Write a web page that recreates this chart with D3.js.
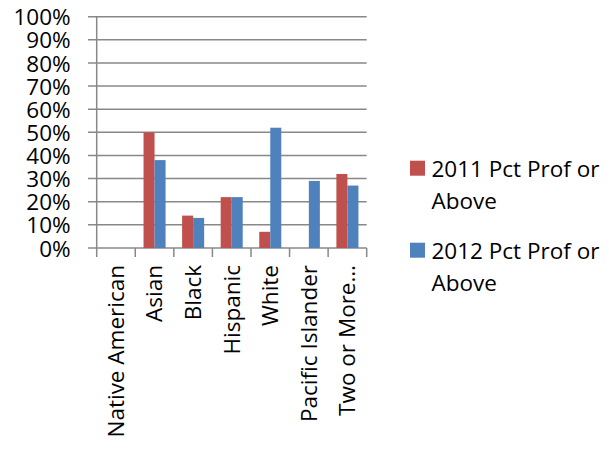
<!DOCTYPE html>
<html><head><meta charset="utf-8">
<script src="https://cdn.jsdelivr.net/npm/d3@7"></script>
<style>html,body{margin:0;padding:0;background:#fff;}svg{display:block;}</style>
</head><body>
<svg id="c" width="609" height="462"></svg>
<script>
const categories = ["Native American","Asian","Black","Hispanic","White","Pacific Islander","Two or More…"];
const series2011 = [null,50,14,22,7,null,32];
const series2012 = [null,38,13,22,52,29,27];
const seriesNames = ["2011 Pct Prof or Above","2012 Pct Prof or Above"];
const yTicks = [0,10,20,30,40,50,60,70,80,90,100];

const colors = ["#C0504D","#4F81BD"];
const font = "'Open Sans', sans-serif";
const fs = 22.5;
const svg = d3.select("#c");
const x0 = 96.7, x1 = 366.7, yb = 248, yt = 16.7;

const x = d3.scaleBand().domain(categories).range([x0,x1]).paddingInner(0).paddingOuter(0);
const y = d3.scaleLinear().domain([0,100]).range([yb,yt]);
const bw = x.bandwidth()/3.5;
const inner = d3.scaleBand().domain([0,1]).range([x.bandwidth()/2 - bw, x.bandwidth()/2 + bw]);

// gridlines
svg.append("g").selectAll("line").data(yTicks).join("line")
  .attr("x1",88).attr("x2",x1).attr("y1",d=>y(d)).attr("y2",d=>y(d))
  .attr("stroke","#888").attr("stroke-width",1.5);

// y axis labels
const ya = svg.append("g").attr("transform",`translate(${x0},0)`)
  .call(d3.axisLeft(y).tickValues(yTicks).tickSize(0).tickPadding(26).tickFormat(d=>d+"%"));
ya.select(".domain").remove();
ya.selectAll("text").attr("font-family",font).attr("font-size",fs).attr("fill","#000").attr("dy","0.36em");

// vertical axis line
svg.append("line").attr("x1",x0).attr("x2",x0).attr("y1",yt).attr("y2",yb)
  .attr("stroke","#888").attr("stroke-width",1.5);

// x tick marks at band boundaries
const bounds = categories.map(c=>x(c)).concat([x1]);
svg.append("g").selectAll("line").data(bounds).join("line")
  .attr("x1",d=>d).attr("x2",d=>d).attr("y1",yb).attr("y2",257)
  .attr("stroke","#888").attr("stroke-width",1.5);

// bars
const rows = categories.map((c,i)=>({c, v:[series2011[i],series2012[i]]}));
const g = svg.append("g");
rows.forEach(r=>{
  r.v.forEach((v,k)=>{
    if(v==null) return;
    g.append("rect")
      .attr("x", x(r.c)+inner(k))
      .attr("width", inner.bandwidth())
      .attr("y", y(v))
      .attr("height", yb - y(v))
      .attr("fill", colors[k]);
  });
});

// x labels
const xa = svg.append("g").attr("transform",`translate(0,${yb})`)
  .call(d3.axisBottom(x).tickSize(0).tickPadding(0));
xa.select(".domain").remove();
xa.selectAll("text")
  .attr("font-family",font).attr("font-size",fs).attr("fill","#000")
  .attr("text-anchor","end")
  .attr("transform","translate(0,17) rotate(-90)")
  .attr("x",0).attr("y",0).attr("dy","0.35em");

// legend
const leg = svg.append("g");
const legY = [160.7, 242.7];
seriesNames.forEach((n,k)=>{
  leg.append("rect").attr("x",410).attr("y",legY[k]).attr("width",15).attr("height",15).attr("fill",colors[k]);
  const t = leg.append("text").attr("font-family",font).attr("font-size",fs).attr("fill","#000");
  t.append("tspan").attr("x",431.5).attr("y",legY[k]+16).text(n.replace(/ Above$/,""));
  t.append("tspan").attr("x",431.5).attr("y",legY[k]+48).text("Above");
});
</script>
</body></html>
